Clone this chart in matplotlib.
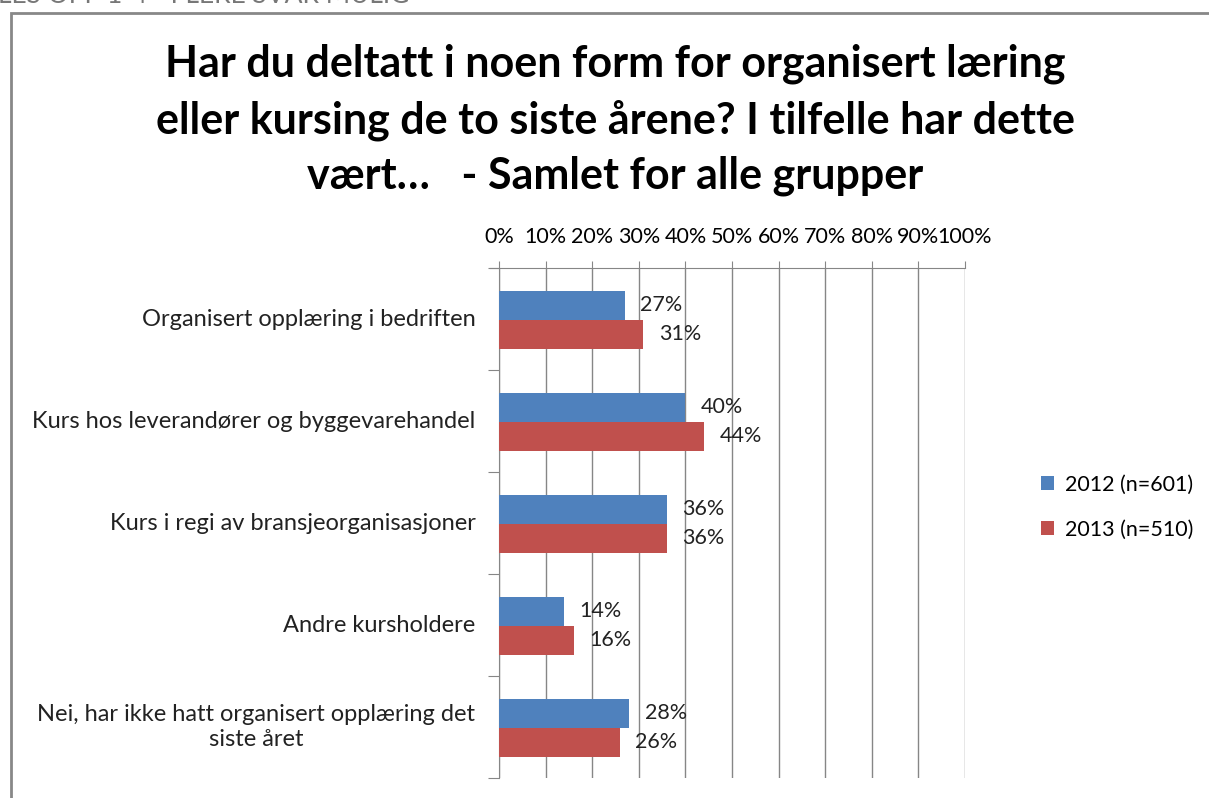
import numpy as np
import matplotlib.pyplot as plt
from matplotlib.patches import Rectangle

plt.rcParams['font.family'] = ['Lato', 'DejaVu Sans']

categories = ['Organisert opplæring i bedriften',
              'Kurs hos leverandører og byggevarehandel',
              'Kurs i regi av bransjeorganisasjoner',
              'Andre kursholdere',
              'Nei, har ikke hatt organisert opplæring det\nsiste året']
v2012 = [27, 40, 36, 14, 28]
v2013 = [31, 44, 36, 16, 26]
series_names = ['2012 (n=601)', '2013 (n=510)']
title = ('Har du deltatt i noen form for organisert læring\n'
         'eller kursing de to siste årene? I tilfelle har dette\n'
         'vært…   - Samlet for alle grupper')

blue = '#4F81BD'
red = '#C0504D'
grey = '#868686'
fs = 15.5

W, H = 1209, 798
fig = plt.figure(figsize=(W / 100, H / 100), dpi=100)
ax = fig.add_axes([499 / W, 1 - 778 / H, (965 - 499) / W, (778 - 268) / H])

y = np.arange(len(categories))
h = 0.285
b1 = ax.barh(y - 0.135, v2012, height=h, color=blue, label=series_names[0], zorder=3)
b2 = ax.barh(y + 0.15, v2013, height=h, color=red, label=series_names[1], zorder=3)

for yy, v in zip(y - 0.135, v2012):
    ax.annotate(f'{v}%', (v, yy), xytext=(11, 0), textcoords='offset points',
                va='center', ha='left', fontsize=fs, color='#222222', zorder=4)
for yy, v in zip(y + 0.15, v2013):
    ax.annotate(f'{v}%', (v, yy), xytext=(11, 0), textcoords='offset points',
                va='center', ha='left', fontsize=fs, color='#222222', zorder=4)

ax.set_xlim(0, 100)
ax.set_ylim(len(categories) - 0.5, -0.5)
ax.set_xticks(np.arange(0, 101, 10))
ax.set_xticklabels([f'{t}%' for t in range(0, 101, 10)], fontsize=fs)
ax.xaxis.tick_top()
ax.tick_params(axis='x', direction='out', length=5, color=grey, pad=10)
ax.grid(axis='x', color=grey, linewidth=1, zorder=0)

# category boundaries get the ticks, names are centred between them
ax.set_yticks(np.arange(-0.5, len(categories), 1))
ax.set_yticklabels([])
ax.tick_params(axis='y', direction='out', length=8, color=grey)
for i, c in enumerate(categories):
    ax.annotate(c, (0, i), xycoords=('axes fraction', 'data'), xytext=(-17, 0),
                textcoords='offset points', ha='right', va='center',
                multialignment='center', fontsize=17, color='#222222')

for s in ['bottom', 'right']:
    ax.spines[s].set_visible(False)
for s in ['top', 'left']:
    ax.spines[s].set_color(grey)
ax.spines['top'].set_bounds(-2, 100)

fig.legend(handles=[b1, b2], loc='center left', bbox_to_anchor=(1022 / W, 1 - 507 / H),
           frameon=False, fontsize=fs, handlelength=0.6, handleheight=0.6,
           handletextpad=0.5, labelspacing=1.15)

fig.text(615 / W, 1 - 120 / H, title, ha='center', va='center', fontsize=31,
         fontweight='bold', linespacing=1.45)

fig.text(-2 / W, 1 - 3 / H, 'LES OPP 1-4 - FLERE SVAR MULIG', ha='left', va='baseline',
         fontsize=19, color='#777777')
fig.patches.append(Rectangle((11 / W, -0.1), 1.2, 1 - 13 / H + 0.1, transform=fig.transFigure,
                             fill=False, edgecolor='#888888', linewidth=2))

fig.savefig('out.png', dpi=100)
